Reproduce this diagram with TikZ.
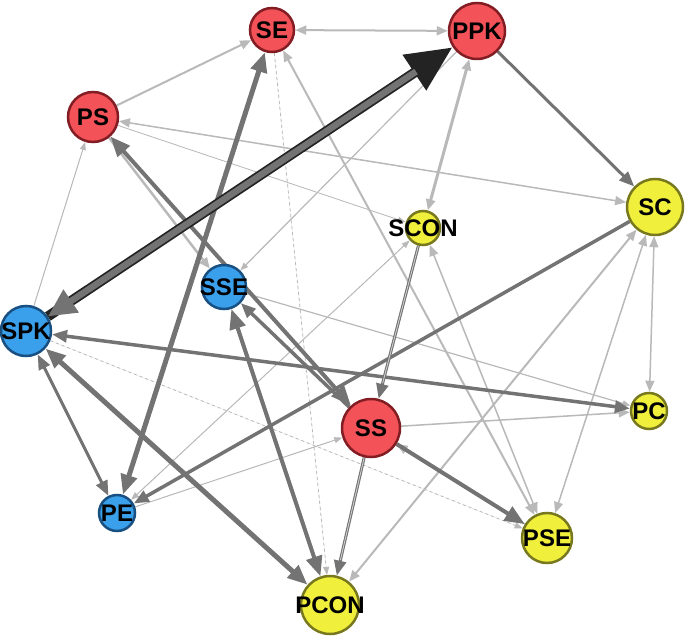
\documentclass[tikz,border=0pt]{standalone}
\usepackage{fontspec}
\setmainfont{Liberation Sans}
\usetikzlibrary{arrows.meta,backgrounds}
\definecolor{redf}{RGB}{242,82,88}
\definecolor{redd}{RGB}{130,30,35}
\definecolor{bluef}{RGB}{58,160,235}
\definecolor{blued}{RGB}{25,80,130}
\definecolor{yelf}{RGB}{240,240,60}
\definecolor{yeld}{RGB}{120,120,30}
\definecolor{edk}{RGB}{115,115,115}
\definecolor{elt}{RGB}{185,185,185}
\definecolor{eblk}{RGB}{35,35,35}
\tikzset{
  TA/.tip={Triangle[length=20pt,width=16pt]},
  TB/.tip={Triangle[length=15pt,width=12pt]},
  TC/.tip={Triangle[length=11pt,width=9pt]},
  TD/.tip={Triangle[length=8pt,width=6pt]},
}
\begin{document}
\begin{tikzpicture}[x=1pt,y=-1pt,
  vtx/.style={circle, inner sep=0pt, line width=2.5pt},
  lbl/.style={inner sep=0pt, font=\fontsize{24}{24}\selectfont\bfseries, text=black},
  rednode/.style={vtx, fill=redf, draw=redd},
  bluenode/.style={vtx, fill=bluef, draw=blued},
  yelnode/.style={vtx, fill=yelf, draw=yeld},
  dk/.style={draw=edk, fill=edk},
  lt/.style={draw=elt, fill=elt},
  core/.style={draw=elt!60!white, line width=0.8pt},
]
\useasboundingbox (0,0) rectangle (685,636);
\node[rednode, minimum size=44pt, label={[lbl]center:SE}] (SE) at (272,30) {};
\node[rednode, minimum size=56pt, label={[lbl]center:PPK}] (PPK) at (477,31) {};
\node[rednode, minimum size=50pt, label={[lbl]center:PS}] (PS) at (93,117) {};
\node[yelnode, minimum size=56pt, label={[lbl]center:SC}] (SC) at (655,207) {};
\node[yelnode, minimum size=34pt, label={[lbl]center:SCON}] (SCON) at (423,228) {};
\node[bluenode, minimum size=44pt, label={[lbl]center:SSE}] (SSE) at (224,287) {};
\node[bluenode, minimum size=50pt, label={[lbl]center:SPK}] (SPK) at (26,331) {};
\node[rednode, minimum size=58pt, label={[lbl]center:SS}] (SS) at (371,428) {};
\node[yelnode, minimum size=36pt, label={[lbl]center:PC}] (PC) at (649,411) {};
\node[bluenode, minimum size=36pt, label={[lbl]center:PE}] (PE) at (117,513) {};
\node[yelnode, minimum size=50pt, label={[lbl]center:PSE}] (PSE) at (547,538) {};
\node[yelnode, minimum size=58pt, label={[lbl]center:PCON}] (PCON) at (330,605) {};
\begin{scope}[on background layer]
  % light edges
  \draw[lt, line width=2pt, TC-TC] (SE) -- (PPK);
  \draw[lt, line width=2pt, -TC] (PS) -- (SE);
  \draw[lt, line width=3pt, TC-TC] (PPK) -- (SCON);
  \draw[lt, line width=1.5pt, TC-TC] (PS) -- (SC);
  \draw[lt, line width=0.8pt, -TD] (PS) -- (SCON);
  \draw[lt, line width=2.5pt, -TC] (PS) -- (SSE);
  \draw[lt, line width=1pt, -TD] (SPK) -- (PS);
  \draw[lt, line width=1.2pt, -TD] (PPK) -- (SSE);
  \draw[lt, line width=0.8pt, dashed, -TD] (SE) -- (PCON);
  \draw[lt, line width=2pt, TC-TC] (SE) -- (PSE);
  \draw[lt, line width=1.5pt, TC-TC] (SCON) -- (PSE);
  \draw[lt, line width=0.8pt, dashed, -TD] (SPK) -- (PSE);
  \draw[lt, line width=1pt, -TD] (PE) -- (SS);
  \draw[lt, line width=1pt, TD-TD] (PE) -- (SCON);
  \draw[lt, line width=1.5pt, -TC] (PSE) -- (SS);
  \draw[lt, line width=1.5pt, -TC] (SS) -- (PC);
  \draw[lt, line width=2pt, TC-TC] (SC) -- (PCON);
  \draw[lt, line width=1.5pt, TC-TC] (SC) -- (PC);
  \draw[lt, line width=1.5pt, TC-TC] (SC) -- (PSE);
  \draw[lt, line width=1.2pt, -TD] (SSE) -- (PC);
  % dark edges
  \draw[dk, line width=5pt, TA-TA] (SE) -- (PE);
  \draw[dk, line width=3pt, -TB] (PPK) -- (SC);
  \draw[dk, line width=4pt, TA-TA] (PS) -- (SS);
  \draw[dk, line width=3.5pt, TB-TB] (SPK) -- (PC);
  \draw[dk, line width=5pt, TA-TA] (SPK) -- (PCON);
  \draw[dk, line width=3pt, TB-TB] (SPK) -- (PE);
  \draw[dk, line width=3.5pt, -TB] (SC) -- (PE);
  \draw[dk, line width=4pt, TA-TA] (SSE) -- (PCON);
  \draw[dk, line width=3pt, -TB] (SS) -- (PCON);
  \draw[core, shorten >=16pt] (SS) -- (PCON);
  \draw[dk, line width=3pt, -TB] (SCON) -- (SS);
  \draw[core, shorten >=16pt] (SCON) -- (SS);
  \draw[dk, line width=4pt, -TA] (SS) -- (PSE);
  \draw[dk, line width=3.5pt, -TB] (SS) -- (SSE);
  % strongest edge
  \draw[draw=eblk, fill=eblk, line width=10pt, -{Triangle[length=46pt,width=40pt]}] (SPK) -- (PPK);
  \draw[dk, line width=6.5pt, shorten <=44pt, -{Triangle[length=28pt,width=26pt]}] (PPK) -- (SPK);
\end{scope}
\end{tikzpicture}
\end{document}
